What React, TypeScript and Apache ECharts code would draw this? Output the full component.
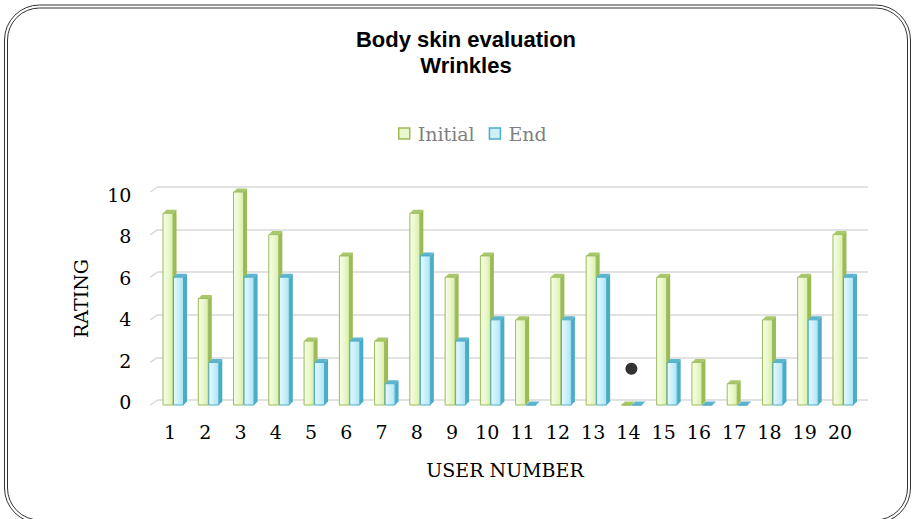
import React, { useEffect, useRef } from "react";
import * as echarts from "echarts";

const categories = ["1","2","3","4","5","6","7","8","9","10","11","12","13","14","15","16","17","18","19","20"];
const initialValues = [9, 5, 10, 8, 3, 7, 3, 9, 6, 7, 4, 6, 7, 0, 6, 2, 1, 4, 6, 8];
const endValues = [6, 2, 6, 6, 2, 3, 1, 7, 3, 4, 0, 4, 6, 0, 2, 0, 0, 2, 4, 6];
const markerPoints = [[13, 1.7]];
const yTicks = [0, 2, 4, 6, 8, 10];

const SERIF = '"DejaVu Serif", serif';
const SANS = '"Liberation Sans", Arial, sans-serif';

function make3DBar(offset: number, front: any[], side: string, top: string, stroke: string) {
  return (params: any, api: any) => {
    const idx = api.value(0);
    const v = api.value(1);
    const p = api.coord([idx, v]);
    const b = api.coord([idx, 0]);
    const w = 10;
    const d = 3.5;
    const x0 = p[0] + offset;
    const yt = p[1];
    const yb = b[1];
    return {
      type: "group",
      children: [
        {
          type: "polygon",
          shape: { points: [[x0 + w, yt], [x0 + w + d, yt - d], [x0 + w + d, yb - d], [x0 + w, yb]] },
          style: { fill: side },
        },
        {
          type: "polygon",
          shape: { points: [[x0, yt], [x0 + d, yt - d], [x0 + w + d, yt - d], [x0 + w, yt]] },
          style: { fill: top },
        },
        {
          type: "rect",
          shape: { x: x0, y: yt, width: w, height: Math.max(yb - yt, 0) },
          style: {
            fill: { type: "linear", x: 0, y: 0, x2: 1, y2: 0, colorStops: front },
            stroke,
            lineWidth: 1,
          },
        },
      ],
    };
  };
}

export default function App() {
  const ref = useRef<HTMLDivElement>(null);
  useEffect(() => {
    if (!ref.current) return;
    const chart = echarts.init(ref.current, null, { renderer: "svg" });
    const option: any = {
      animation: false,
      backgroundColor: "#ffffff",
      graphic: [
        { type: "rect", shape: { x: 4.5, y: 5, width: 906, height: 518, r: 35 }, style: { fill: "none", stroke: "#333", lineWidth: 1 }, z: 100 },
        { type: "rect", shape: { x: 7.5, y: 8, width: 900, height: 512, r: 32 }, style: { fill: "none", stroke: "#333", lineWidth: 1 }, z: 100 },
        { type: "text", x: 466, y: 39, style: { text: "Body skin evaluation", textAlign: "center", textVerticalAlign: "middle", font: "bold 22px " + SANS, fill: "#000" } },
        { type: "text", x: 466, y: 65.5, style: { text: "Wrinkles", textAlign: "center", textVerticalAlign: "middle", font: "bold 22px " + SANS, fill: "#000" } },
      ],
      legend: {
        left: 393,
        top: 119,
        itemWidth: 11,
        itemHeight: 11,
        itemGap: 14,
        icon: "rect",
        textStyle: { fontFamily: SERIF, fontSize: 19, color: "#808080", padding: [0, 0, 0, 3] },
        data: [
          { name: "Initial", itemStyle: { color: "#e9f7cc", borderColor: "#9bbb59", borderWidth: 1.5 } },
          { name: "End", itemStyle: { color: "#cdf0fb", borderColor: "#4bacc6", borderWidth: 1.5 } },
        ],
      },
      grid: [
        { left: 152.4, right: 56.4, top: 192, bottom: 114 },
        { left: 157, right: 46, top: 187, bottom: 119 },
        { left: 152.4, right: 56.4, top: 195, bottom: 117 },
      ],
      xAxis: [
        {
          type: "category",
          gridIndex: 0,
          data: categories,
          axisLine: { show: false },
          axisTick: { show: false },
          axisLabel: { fontFamily: SERIF, fontSize: 19, color: "#000", margin: 17 },
          name: "USER NUMBER",
          nameLocation: "middle",
          nameGap: 55,
          nameTextStyle: { fontFamily: SERIF, fontSize: 19, color: "#000" },
        },
        { type: "category", gridIndex: 1, data: categories, show: false },
        { type: "category", gridIndex: 2, data: categories, show: false },
      ],
      yAxis: [
        {
          type: "value",
          gridIndex: 0,
          min: 0,
          max: 10,
          interval: 2,
          show: false,
        },
        {
          type: "value",
          gridIndex: 1,
          min: 0,
          max: 10,
          interval: 2,
          axisLine: { show: false },
          axisTick: { show: false },
          axisLabel: { show: false },
          splitLine: { show: true, lineStyle: { color: "#d9d9d9", width: 1.5 } },
        },
        {
          type: "value",
          gridIndex: 2,
          min: 0,
          max: 10,
          interval: 2,
          splitLine: { show: false },
          axisLine: { show: false },
          axisTick: { show: false },
          axisLabel: { fontFamily: SERIF, fontSize: 19, color: "#000", margin: 21 },
          name: "RATING",
          nameLocation: "middle",
          nameGap: 62,
          nameTextStyle: { fontFamily: SERIF, fontSize: 19, color: "#000" },
        },
      ],
      series: [
        {
          name: "wall",
          type: "custom",
          xAxisIndex: 0,
          yAxisIndex: 0,
          silent: true,
          data: yTicks.map((v) => [0, v]),
          renderItem: (params: any, api: any) => {
            const cs = params.coordSys;
            const p = api.coord([0, api.value(1)]);
            return {
              type: "line",
              shape: { x1: cs.x - 2, y1: p[1], x2: cs.x + 5, y2: p[1] - 5 },
              style: { stroke: "#d9d9d9", lineWidth: 1.5 },
            };
          },
          z: 1,
        },
        {
          name: "Initial",
          type: "custom",
          xAxisIndex: 0,
          yAxisIndex: 0,
          itemStyle: { color: "#e9f7cc" },
          encode: { x: 0, y: 1 },
          data: initialValues.map((v, i) => [i, v]),
          renderItem: make3DBar(
            -7,
            [
              { offset: 0, color: "#f7fdea" },
              { offset: 0.5, color: "#eaf8cd" },
              { offset: 1, color: "#d8efa8" },
            ],
            "#9bbb59",
            "#a8c86a",
            "#9bbb59"
          ),
          z: 2,
        },
        {
          name: "End",
          type: "custom",
          xAxisIndex: 0,
          yAxisIndex: 0,
          itemStyle: { color: "#cdf0fb" },
          encode: { x: 0, y: 1 },
          data: endValues.map((v, i) => [i, v]),
          renderItem: make3DBar(
            3.5,
            [
              { offset: 0, color: "#e6f8fe" },
              { offset: 0.5, color: "#cbf0fb" },
              { offset: 1, color: "#abe3f5" },
            ],
            "#4bacc6",
            "#5db5ce",
            "#4bacc6"
          ),
          z: 3,
        },
        {
          name: "marker",
          type: "scatter",
          xAxisIndex: 0,
          yAxisIndex: 0,
          data: markerPoints,
          symbol: "circle",
          symbolSize: 12,
          symbolOffset: [3, 0],
          itemStyle: { color: "#000" },
          z: 5,
        },
      ],
    };
    chart.setOption(option);
    return () => chart.dispose();
  }, []);
  return (
    <div
      ref={ref}
      style={{ position: "fixed", left: 0, top: 0, width: 914, height: 519, background: "#fff" }}
    />
  );
}
